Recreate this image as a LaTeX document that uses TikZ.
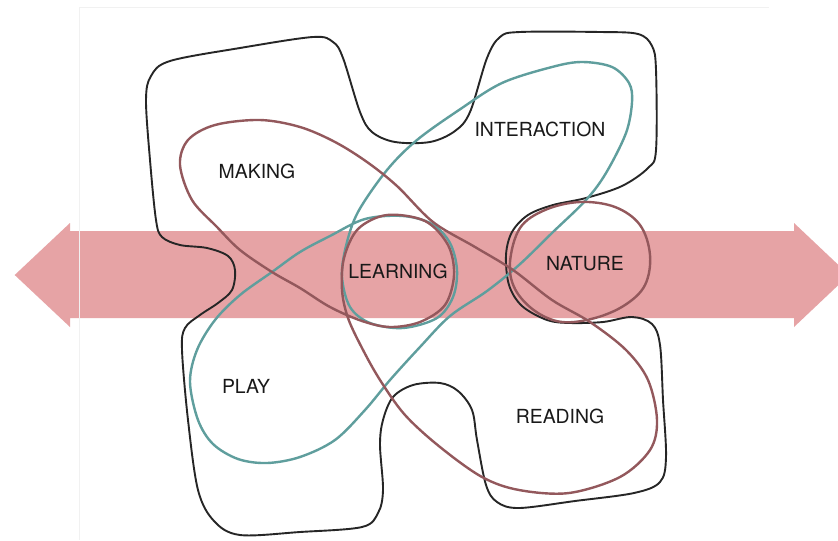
\documentclass[tikz,border=0pt]{standalone}
\usepackage{fontspec}
\setmainfont{TeX Gyre Heros}
\usepackage{tikz}
\definecolor{bandpink}{HTML}{E6A3A5}
\definecolor{tealline}{HTML}{5F9E9D}
\definecolor{maroonline}{HTML}{93585C}
\definecolor{framegray}{HTML}{F1F1F1}

\begin{document}
\begin{tikzpicture}[x=0.5pt, y=-0.5pt,
    font=\fontsize{9.7}{11}\selectfont,
    blob/.style={draw=black!85, line width=0.95pt},
    loopline/.style={line width=1.2pt},
    theme/.style={text=black!90, inner sep=0pt}]
  \clip (0,0) rectangle (838,540);
  \fill[white] (0,0) rectangle (838,540);

  % Double arrow band
  \fill[bandpink] (14.7,275) -- (70,223) -- (70,231) -- (794,231) -- (794,223)
    -- (849,275) -- (794,327) -- (794,318) -- (70,318) -- (70,327) -- cycle;
  \draw[framegray, line width=0.4pt] (79,540) -- (79,7) -- (769,7);

  % Outer blob
  \draw[blob] plot[smooth cycle, tension=0.55] coordinates {
    (146,100) (151,76) (170,61) (240,48) (313,37) (333,42) (343,58) (360,112)
    (372,132) (395,142) (430,142) (455,131) (470,112) (487,58) (500,37) (520,32)
    (600,32) (638,34) (652,46) (656,70) (656,150) (648,168) (622,186) (586,198)
    (553,205) (528,215) (512,232) (506,255) (509,285) (522,306) (547,320) (570,323)
    (603,322) (632,317) (652,324) (660,345) (663,400) (666,457) (660,482) (634,493)
    (575,501) (519,508) (497,502) (486,485) (477,440) (472,410) (458,391) (440,383)
    (413,385) (393,397) (383,420) (380,445) (383,490) (378,513) (362,527) (300,532)
    (240,535) (214,521) (198,490) (188,420) (182,350) (185,328) (200,315) (218,303)
    (232,290) (235,270) (228,256) (207,248) (180,245) (162,237) (156,220) (150,160)};

  % Teal loop (play - learning - interaction)
  \draw[loopline, tealline] plot[smooth cycle, tension=0.55] coordinates {
    (272,272) (300,252) (330,236) (365,219) (403,216) (432,224) (450,243) (457,270)
    (453,297) (437,318) (403,328) (370,323) (350,307) (342,277) (346,246) (358,212)
    (387,170) (417,140) (459,110) (502,83) (552,67) (582,62) (612,67) (629,83)
    (632,102) (626,133) (606,173) (586,200) (553,232) (519,265) (487,291) (450,316)
    (420,347) (390,380) (365,410) (335,440) (300,457) (267,463) (238,459) (213,444)
    (198,420) (190,382) (197,350) (215,320) (240,295)};

  % Maroon loop (making - learning - reading)
  \draw[loopline, maroonline] plot[smooth cycle, tension=0.55] coordinates {
    (260,120) (300,127) (335,142) (367,162) (397,186) (433,222) (475,247) (513,270)
    (552,300) (590,322) (626,350) (648,380) (657,420) (650,450) (620,477) (569,493)
    (519,490) (482,477) (440,447) (405,415) (380,380) (362,348) (348,318) (342,290)
    (344,258) (358,229) (387,215) (425,221) (448,245) (454,275) (445,305) (420,322)
    (390,327) (362,321) (330,307) (300,288) (272,272) (240,250) (217,227) (192,200)
    (180,165) (188,140) (215,125)};

  % Nature ring
  \draw[loopline, maroonline] plot[smooth cycle, tension=0.6] coordinates {
    (510,262) (520,228) (545,210) (580,202) (615,207) (640,225) (650,255) (645,285)
    (625,305) (595,318) (562,322) (535,311) (515,289)};

  % Labels
  \node[theme] (making) at (257,171) {MAKING};
  \node[theme] (interaction) at (540,129) {INTERACTION};
  \node[theme] (learning) at (398,271) {LEARNING};
  \node[theme] (nature) at (585,264) {NATURE};
  \node[theme] (play) at (246,386) {PLAY};
  \node[theme] (reading) at (560,416) {READING};
\end{tikzpicture}
\end{document}
